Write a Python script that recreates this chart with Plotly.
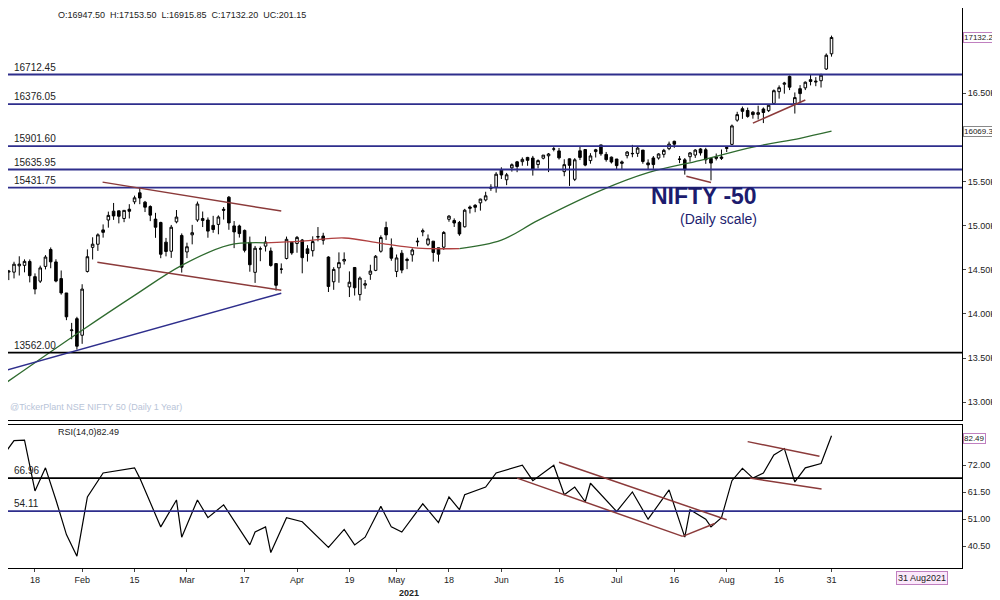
import pandas as pd
import plotly.graph_objects as go

# NSE trading days, Jan 8 - Aug 31 2021
holidays = ["2021-01-26", "2021-03-11", "2021-03-29", "2021-04-02", "2021-04-14",
            "2021-04-21", "2021-05-13", "2021-07-21", "2021-08-19"]
dates = [d for d in pd.bdate_range("2021-01-08", "2021-08-31") if d.strftime("%Y-%m-%d") not in holidays]

opens = [14258, 14474, 14473, 14545, 14550, 14594, 14422, 14371, 14538, 14730, 14589, 14400, 14237, 13810, 13946,
         13758, 14481, 14754, 14789, 14952, 15064, 15164, 15168, 15081, 15186, 15270, 15372, 15266, 15217, 15074,
         15036, 14813, 14710, 15043, 14889,
         14702, 14896, 15064, 15058, 15064, 15003, 15014, 15185, 15322, 14997, 14996, 14946, 14810, 14471, 14737,
         14768, 14713, 14570, 14506, 14628, 14811,
         14798, 14837, 14737, 14716, 14876, 14882, 14644, 14364, 14522, 14599, 14306, 14526, 14219, 14326, 14449,
         14493, 14710, 14979, 14748,
         14481, 14688, 14604, 14669, 14816, 14929, 14789, 14824, 14749, 14756, 15072, 15058, 15036, 14987, 15211,
         15231, 15258, 15291, 15422, 15437,
         15629, 15520, 15655, 15723, 15725, 15773, 15766, 15692, 15764, 15791, 15867, 15847, 15612, 15757, 15525,
         15848, 15862, 15737, 15839, 15915, 15807, 15776,
         15755, 15705, 15793, 15814, 15819, 15856, 15711, 15767, 15766, 15808, 15872, 15956, 15754, 15746, 15781,
         15800, 15869, 15860, 15762, 15762, 15778,
         15874, 15921, 16195, 16325, 16305, 16286, 16261, 16322, 16303, 16385, 16518, 16602, 16691, 16382, 16552,
         16561, 16654, 16627, 16642, 16775, 16947]
highs = [14367, 14498, 14591, 14653, 14618, 14617, 14459, 14547, 14666, 14753, 14619, 14492, 14237, 13898, 13967,
         14336, 14731, 14868, 14913, 15014, 15159, 15257, 15169, 15176, 15243, 15340, 15432, 15280, 15230, 15145,
         15044, 14861, 15008, 15177, 14912,
         14807, 15009, 15273, 15160, 15093, 15111, 15116, 15211, 15336, 15052, 15011, 14956, 14876, 14770, 14763,
         14878, 14752, 14575, 14572, 14876, 14813,
         14883, 14849, 14779, 14879, 14984, 14919, 14653, 14529, 14697, 14697, 14482, 14527, 14424, 14384, 14557,
         14667, 14890, 15045, 14855,
         14673, 14723, 14637, 14743, 14863, 14967, 14900, 14824, 14749, 14938, 15119, 15082, 15053, 15190, 15228,
         15243, 15305, 15384, 15469, 15606,
         15661, 15597, 15705, 15733, 15773, 15779, 15790, 15751, 15800, 15823, 15901, 15880, 15752, 15761, 15765,
         15896, 15862, 15821, 15870, 15915, 15835, 15783,
         15755, 15738, 15845, 15915, 15893, 15856, 15751, 15789, 15820, 15870, 15952, 15962, 15789, 15766, 15834,
         15866, 15878, 15882, 15767, 15817, 15863,
         15893, 16146, 16290, 16349, 16337, 16296, 16359, 16339, 16375, 16543, 16589, 16629, 16701, 16509, 16592,
         16634, 16712, 16683, 16722, 16951, 17153]
lows = [14222, 14383, 14402, 14435, 14471, 14357, 14222, 14350, 14504, 14517, 14358, 14218, 13929, 13713, 13596,
        13661, 14469, 14617, 14714, 14864, 14977, 15065, 15026, 15039, 15081, 15243, 15243, 15154, 15051, 14862,
        14631, 14652, 14635, 15026, 14468,
        14632, 14788, 15043, 14984, 14863, 14919, 14902, 15069, 14953, 14745, 14865, 14697, 14478, 14351, 14597,
        14707, 14535, 14264, 14457, 14617, 14670,
        14693, 14460, 14593, 14650, 14822, 14785, 14248, 14273, 14353, 14559, 14191, 14208, 14151, 14285, 14386,
        14484, 14694, 14838, 14602,
        14417, 14461, 14507, 14592, 14765, 14880, 14770, 14592, 14592, 14725, 15044, 14985, 14885, 14979, 15138,
        15152, 15170, 15275, 15394, 15374,
        15528, 15459, 15612, 15606, 15679, 15678, 15567, 15649, 15751, 15607, 15842, 15749, 15560, 15450, 15505,
        15743, 15673, 15702, 15772, 15792, 15725, 15704,
        15635, 15635, 15762, 15775, 15779, 15702, 15632, 15644, 15748, 15771, 15855, 15882, 15708, 15578, 15724,
        15767, 15794, 15700, 15513, 15739, 15744,
        15834, 15914, 16177, 16210, 16223, 16212, 16203, 16162, 16287, 16376, 16439, 16495, 16536, 16270, 16395,
        16536, 16589, 16580, 16565, 16764, 16915]
closes = [14347, 14484, 14563, 14564, 14595, 14433, 14281, 14521, 14644, 14590, 14372, 14238, 13967, 13818, 13634,
          14281, 14648, 14790, 14896, 14924, 15116, 15110, 15106, 15173, 15163, 15315, 15313, 15209, 15119, 14982,
          14676, 14707, 14982, 15097, 14529,
          14761, 14920, 15245, 15081, 14938, 14956, 15098, 15175, 15031, 14929, 14910, 14721, 14557, 14744, 14736,
          14815, 14549, 14324, 14507, 14845, 14691,
          14867, 14637, 14684, 14819, 14873, 14835, 14311, 14504, 14581, 14617, 14359, 14296, 14406, 14341, 14485,
          14653, 14865, 14895, 14631,
          14634, 14496, 14618, 14724, 14823, 14942, 14850, 14696, 14677, 14923, 15108, 15030, 14906, 15175, 15197,
          15208, 15301, 15338, 15435, 15583,
          15574, 15576, 15690, 15670, 15751, 15740, 15635, 15737, 15799, 15812, 15869, 15768, 15691, 15683, 15746,
          15773, 15686, 15790, 15860, 15814, 15748, 15721,
          15680, 15722, 15834, 15818, 15879, 15727, 15689, 15692, 15812, 15853, 15924, 15923, 15752, 15632, 15824,
          15856, 15824, 15746, 15709, 15778, 15763,
          15885, 16130, 16258, 16295, 16238, 16258, 16280, 16282, 16364, 16529, 16563, 16615, 16569, 16451, 16496,
          16625, 16634, 16636, 16705, 16931, 17132]

# moving average (bar index, value)
ma_idx = [0, 15, 25, 34, 43, 50, 57, 65, 72, 79, 87, 95, 102, 114, 123, 133, 143, 152, 158]
ma_val = [13200, 13815, 14210, 14550, 14780, 14805, 14825, 14860, 14800, 14745, 14740, 14836, 15060, 15400,
          15600, 15740, 15890, 15990, 16070]

# RSI(14)
rsi_idx = [0, 2, 4, 6, 8, 10, 12, 14, 16, 19, 25, 26, 30, 33, 34, 37, 39, 42, 47, 48, 50, 51, 54, 57, 62, 65,
           67, 69, 72, 74, 76, 80, 83, 85, 87, 88, 92, 94, 99, 101, 105, 107, 109, 111, 112, 117, 120, 123, 127,
           130, 131, 134, 135, 137, 139, 141, 143, 145, 147, 149, 151, 153, 156, 158]
rsi_val = [76, 81.6, 81.8, 62, 71, 58.5, 45, 36.6, 59.7, 69, 71, 67, 48, 58.5, 44, 58.5, 51.6, 56.6, 41, 46, 48,
           38, 51.6, 50, 40, 47, 41, 44, 56, 48, 46, 57, 49.7, 59.7, 54.7, 60.5, 63.5, 69, 72, 66, 72, 60.5, 63.5,
           57.8, 65, 54, 61.6, 51, 62.4, 44, 54.7, 51, 48, 51.6, 66, 70.8, 67, 69, 76, 78.5, 65.5, 71, 72.7, 83.5]

price_levels = [16712.45, 16376.05, 15901.60, 15635.95, 15431.75]
rsi_levels = [66.96, 54.11]
tick_marks = [("2021-01-18", "18"), ("2021-02-01", "Feb"), ("2021-02-15", "15"), ("2021-03-01", "Mar"),
              ("2021-03-17", "17"), ("2021-04-01", "Apr"), ("2021-04-19", "19"), ("2021-05-03", "May"),
              ("2021-05-18", "18"), ("2021-06-01", "Jun"), ("2021-06-16", "16"), ("2021-07-01", "Jul"),
              ("2021-07-16", "16"), ("2021-08-02", "Aug"), ("2021-08-16", "16"), ("2021-08-31", "31")]

x = list(range(len(dates)))
day_pos = {d.strftime("%Y-%m-%d"): i for i, d in enumerate(dates)}
NAVY = "#2e2e8c"
BROWN = "#8b3a3a"
FONT = "Liberation Sans"

fig = go.Figure()
fig.add_trace(go.Candlestick(
    x=x, open=opens, high=highs, low=lows, close=closes,
    increasing=dict(line=dict(color="black", width=1), fillcolor="white"),
    decreasing=dict(line=dict(color="black", width=1), fillcolor="black"),
    whiskerwidth=0, xaxis="x", yaxis="y", showlegend=False))

# MA: green with a reddish stretch in the middle
seg = [(0, 6, "#2f6b2f"), (5, 11, "#b04040"), (10, len(ma_idx), "#2f6b2f")]
for a, b, col in seg:
    fig.add_trace(go.Scatter(x=ma_idx[a:b], y=ma_val[a:b], mode="lines", line=dict(color=col, width=1.3),
                             line_shape="spline", xaxis="x", yaxis="y", showlegend=False))

fig.add_trace(go.Scatter(x=rsi_idx, y=rsi_val, mode="lines", line=dict(color="black", width=1.2),
                         xaxis="x2", yaxis="y2", showlegend=False))

for lv in price_levels:
    fig.add_shape(type="line", xref="x domain", x0=0, x1=1, y0=lv, y1=lv, yref="y",
                  line=dict(color=NAVY, width=1.8))
    fig.add_annotation(x=0.004, xref="x domain", y=lv, yref="y", text=f"{lv:.2f}", showarrow=False,
                       xanchor="left", yanchor="bottom", font=dict(size=10, color="#222", family=FONT))
fig.add_shape(type="line", xref="x domain", x0=0, x1=1, y0=13562, y1=13562, yref="y",
              line=dict(color="black", width=1.8))
fig.add_annotation(x=0.004, xref="x domain", y=13562, yref="y", text="13562.00", showarrow=False,
                   xanchor="left", yanchor="bottom", font=dict(size=10, color="#222", family=FONT))

for lv, col in zip(rsi_levels, ["black", NAVY]):
    fig.add_shape(type="line", xref="x2 domain", x0=0, x1=1, y0=lv, y1=lv, yref="y2",
                  line=dict(color=col, width=1.8))
    fig.add_annotation(x=0.004, xref="x2 domain", y=lv, yref="y2", text=f"{lv:.2f}", showarrow=False,
                       xanchor="left", yanchor="bottom", font=dict(size=10, color="#222", family=FONT))

# trend lines
price_lines = [((-0.8, 13340), (53, 14235), NAVY), ((18.9, 15493), (53, 15165), BROWN),
               ((17.9, 14586), (53, 14268), BROWN), ((130.3, 15560), (135, 15490), BROWN),
               ((143, 16162), (153, 16423), BROWN)]
for (x0, y0), (x1, y1), col in price_lines:
    fig.add_shape(type="line", x0=x0, y0=y0, x1=x1, y1=y1, xref="x", yref="y", line=dict(color=col, width=1.5))
rsi_lines = [((106, 73.2), (138, 50.8)), ((98, 67), (129.6, 44.3)), ((129.6, 44.3), (135.7, 49.3)),
             ((142, 81.2), (155.7, 75.5)), ((142.4, 67), (156.1, 62.8))]
for (x0, y0), (x1, y1) in rsi_lines:
    fig.add_shape(type="line", x0=x0, y0=y0, x1=x1, y1=y1, xref="x2", yref="y2", line=dict(color=BROWN, width=1.5))

# boxed value labels on the right axis
for txt, yv, yr, border in [("17132.2", 17132.2, "y", "#c080c0"), ("16069.3", 16069.3, "y", "#888"),
                            ("82.49", 82.49, "y2", "#c080c0")]:
    fig.add_annotation(x=1.001, xref="paper", y=yv, yref=yr, text=txt, showarrow=False, xanchor="left",
                       bgcolor="white", bordercolor=border, borderwidth=1, borderpad=0,
                       font=dict(size=8, color="#222", family=FONT))
fig.add_annotation(x=0.985, xref="paper", y=-0.018, yref="paper", text="31 Aug2021", showarrow=False,
                   bgcolor="#fbe8fb", bordercolor="#c080c0", borderwidth=1, yanchor="middle",
                   font=dict(size=9, color="#222", family=FONT))

fig.add_annotation(x=0.05, xref="paper", y=1.0, yref="paper", text="O:16947.50  H:17153.50  L:16915.85  C:17132.20  UC:201.15",
                   showarrow=False, xanchor="left", yanchor="top", font=dict(size=9, color="#222", family=FONT))
fig.add_annotation(x=0.05, xref="paper", y=0.255, yref="paper", text="RSI(14,0)82.49", showarrow=False,
                   xanchor="left", yanchor="top", font=dict(size=9, color="#222", family=FONT))
fig.add_annotation(x=0.0, xref="paper", y=0.275, yref="paper", text="@TickerPlant NSE NIFTY 50 (Daily 1 Year)",
                   showarrow=False, xanchor="left", yanchor="bottom", font=dict(size=9, color="#b8c4d8", family=FONT))
fig.add_annotation(x=0.787, xref="paper", y=15340, yref="y", text="<b>NIFTY -50</b>", showarrow=False,
                   font=dict(size=23, color="#1c1c6e", family="Liberation Sans Narrow, " + FONT))
fig.add_annotation(x=0.787, xref="paper", y=15080, yref="y", text="(Daily scale)", showarrow=False,
                   font=dict(size=14, color="#1c1c6e", family="Liberation Sans Narrow, " + FONT))
fig.add_annotation(x=0.42, xref="paper", y=-0.032, yref="paper", text="<b>2021</b>", showarrow=False,
                   yanchor="top", font=dict(size=9, color="#222", family=FONT))

xr = [0.85, 182.9]
axis_common = dict(showgrid=False, zeroline=False, showline=True, linecolor="black", mirror=True, linewidth=1)
fig.update_layout(
    width=992, height=592, paper_bgcolor="white", plot_bgcolor="white",
    margin=dict(l=0, r=38, t=0, b=32), font=dict(family=FONT, size=9, color="#222"),
    xaxis=dict(domain=[0, 1], range=xr, anchor="y", showticklabels=False, rangeslider=dict(visible=False),
               **axis_common),
    yaxis=dict(domain=[0.264, 1], range=[12796, 17466], side="right", anchor="x",
               tickvals=[13000, 13500, 14000, 14500, 15000, 15500, 16500, 17500],
               ticktext=["13.00K", "13.50K", "14.00K", "14.50K", "15.00K", "15.50K", "16.50K", "17.50K"],
               ticks="outside", ticklen=3, **axis_common),
    xaxis2=dict(domain=[0, 1], range=xr, anchor="y2", tickvals=[day_pos[d] for d, _ in tick_marks],
                ticktext=[t for _, t in tick_marks], ticks="outside", ticklen=3, **axis_common),
    yaxis2=dict(domain=[0, 0.255], range=[32, 87.6], side="right", anchor="x2",
                tickvals=[40.5, 51, 61.5, 72], ticktext=["40.50", "51.00", "61.50", "72.00"],
                ticks="outside", ticklen=3, **axis_common),
)
fig.write_html("out.html")
